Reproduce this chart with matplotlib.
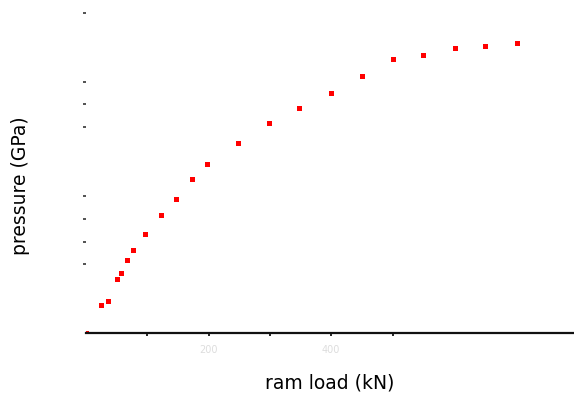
import matplotlib
matplotlib.use('Agg')
import matplotlib.pyplot as plt

# ram load (kN) vs pressure (GPa)
ram_load = [0, 24, 36, 50, 57, 67, 76, 97, 123, 147, 173, 198, 248, 299, 348,
            400, 450, 500, 550, 602, 651, 703]
pressure = [0.0, 1.22, 1.40, 2.36, 2.64, 3.19, 3.63, 4.33, 5.16, 5.86, 6.75, 7.39,
            8.30, 9.20, 9.83, 10.51, 11.26, 11.99, 12.16, 12.45, 12.57, 12.67]

x_ticks = [100, 200, 300, 400, 500]
x_labels = ['', '200', '', '400', '']
y_ticks = [3, 4, 5, 6, 9, 10, 11, 14]

W, H = 574, 397
fig = plt.figure(figsize=(W / 100, H / 100), dpi=100)
ax = fig.add_axes([86 / W, 1 - 333 / H, 1 - 86 / W, 320 / H])

ax.plot(ram_load, pressure, 's', color='#ff0000', ms=3.6, mew=0)

ax.set_xlim(0, 796)
ax.set_ylim(0, 14)

for s in ['top', 'right', 'left']:
    ax.spines[s].set_visible(False)
ax.spines['bottom'].set_linewidth(1.6)
ax.spines['bottom'].set_color('#111111')

ax.set_xticks(x_ticks)
ax.set_xticklabels(x_labels, fontsize=7, color='#dddddd')
ax.tick_params(axis='x', direction='out', length=2.5, width=1.2, pad=6)

ax.set_yticks(y_ticks)
ax.set_yticklabels([])
ax.tick_params(axis='y', direction='out', length=2, width=1.2, pad=2, color='#333333')

# axis titles placed by pixel centre
fig.text(330 / W, 1 - 383 / H, 'ram load (kN)', fontsize=13.5, ha='center', va='center')
fig.text(21 / W, 1 - 186 / H, 'pressure (GPa)', fontsize=13.5, ha='center', va='center',
         rotation=90)

fig.savefig('out.png', dpi=100)
